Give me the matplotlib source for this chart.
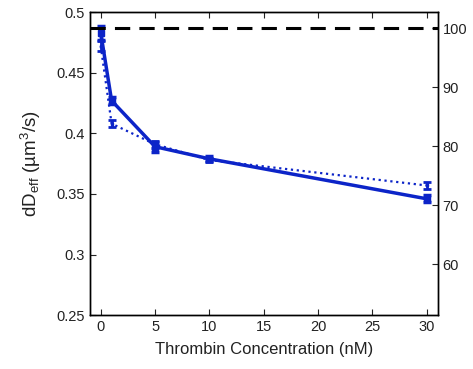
import numpy as np
import matplotlib
matplotlib.use('Agg')
import matplotlib.pyplot as plt

plt.rcParams['font.family'] = ['Liberation Sans', 'DejaVu Sans']
plt.rcParams['mathtext.fontset'] = 'custom'
plt.rcParams['mathtext.rm'] = 'Liberation Sans'
plt.rcParams['mathtext.it'] = 'Liberation Sans:italic'

blue = '#0c24c8'

# solid series
conc = [0, 1, 5, 10, 30]
dd_solid = [0.483, 0.427, 0.389, 0.379, 0.346]
err_solid = [0.006, 0.003, 0.004, 0.002, 0.003]

# dotted series
dd_dot = [0.472, 0.408, 0.391, 0.378, 0.357]
err_dot = [0.004, 0.003, 0.003, 0.002, 0.003]

ref_value = 0.4868  # 100 %
ylim_left = (0.25, 0.5)

fig = plt.figure(figsize=(4.73, 3.69), dpi=100)
ax = fig.add_axes([0.190, 0.146, 0.735, 0.821])

ax.errorbar(conc, dd_dot, yerr=err_dot, color=blue, ls=':', lw=1.6,
            capsize=3, elinewidth=2, capthick=2, marker='s', ms=2)
ax.errorbar(conc, dd_solid, yerr=err_solid, color=blue, ls='-', lw=2.5,
            capsize=3, elinewidth=2.5, capthick=2.5, marker='s', ms=5)

ax.set_xlim(-1, 31)
ax.set_ylim(*ylim_left)
ax.set_xticks([0, 5, 10, 15, 20, 25, 30])
ax.set_yticks([0.25, 0.3, 0.35, 0.4, 0.45, 0.5])
ax.set_yticklabels(['0.25', '0.3', '0.35', '0.4', '0.45', '0.5'])
ax.tick_params(direction='in', labelsize=10.5, length=4, top=True, right=False,
               colors='#222222')
ax.set_xlabel('Thrombin Concentration (nM)', fontsize=12, labelpad=6, color='#222222')
ax.set_ylabel(r'dD$_{\mathrm{eff}}$ (µm$^3$/s)', fontsize=13.5, labelpad=10, color='#222222')

ax2 = ax.twinx()
ax2.set_ylim(ylim_left[0] / ref_value * 100, ylim_left[1] / ref_value * 100)
ax2.set_yticks([60, 70, 80, 90, 100])
ax2.tick_params(direction='in', labelsize=10.5, length=4, colors='#222222')
ax2.axhline(100, color='black', ls=(0, (5, 3)), lw=2.2)

for a in (ax, ax2):
    for s in a.spines.values():
        s.set_linewidth(1.0)

fig.savefig('out.png', dpi=100)
